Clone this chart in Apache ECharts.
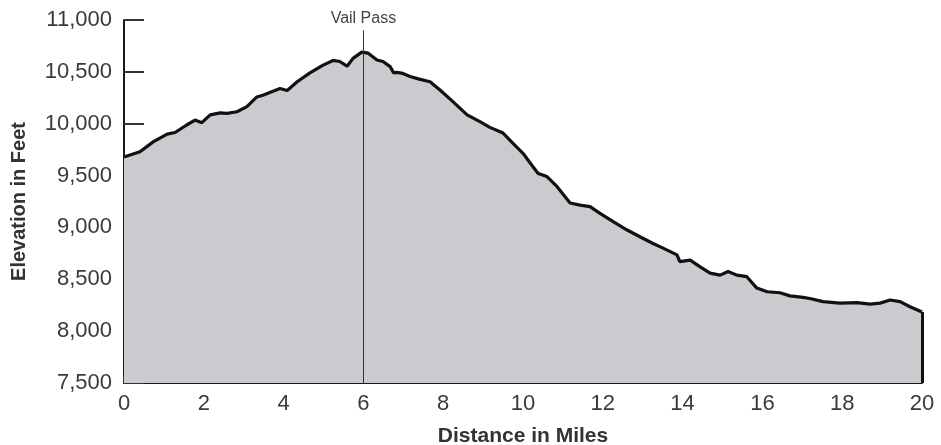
<!DOCTYPE html>
<html>
<head>
<meta charset="utf-8">
<script src="https://cdn.jsdelivr.net/npm/echarts@6/dist/echarts.min.js"></script>
<style>
  html, body { margin: 0; padding: 0; background: #fff; }
  #chart { width: 941px; height: 445px; }
</style>
</head>
<body>
<div id="chart"></div>
<script>
// Distance along route (miles)
var miles = [0, 0.40, 0.73, 1.08, 1.28, 1.58, 1.78, 1.95, 2.16, 2.41, 2.58, 2.83, 3.08, 3.33, 3.48,
  3.91, 4.09, 4.34, 4.66, 4.99, 5.24, 5.41, 5.59, 5.74, 5.96, 6.12, 6.34, 6.49, 6.67, 6.76, 6.84,
  6.99, 7.17, 7.40, 7.67, 7.92, 8.25, 8.60, 8.92, 9.17, 9.50, 9.75, 10.0, 10.25, 10.38, 10.60, 10.85,
  11.18, 11.43, 11.68, 11.93, 12.26, 12.61, 12.93, 13.26, 13.51, 13.86, 13.93, 14.19, 14.44,
  14.69, 14.94, 15.14, 15.36, 15.61, 15.86, 16.12, 16.44, 16.69, 17.02, 17.19, 17.52, 17.94,
  18.37, 18.70, 18.95, 19.20, 19.45, 19.70, 20.0];
// Elevation (feet)
var elevations = [9680, 9730, 9825, 9900, 9915, 9990, 10035, 10010, 10085, 10105, 10100, 10115, 10165, 10258, 10275,
  10340, 10320, 10405, 10490, 10565, 10610, 10600, 10555, 10630, 10690, 10680, 10615, 10600, 10550, 10490, 10495,
  10485, 10455, 10430, 10405, 10325, 10210, 10085, 10020, 9965, 9910, 9810, 9715, 9585, 9520, 9490, 9395,
  9235, 9215, 9200, 9135, 9055, 8975, 8910, 8845, 8800, 8735, 8670, 8685, 8620,
  8560, 8540, 8575, 8540, 8525, 8415, 8380, 8370, 8340, 8325, 8315, 8285, 8270,
  8275, 8260, 8270, 8300, 8285, 8235, 8185];
// Annotation
var passName = "Vail Pass";
var passMile = 6;
var passTop = 10900;
// Axes
var xMin = 0, xMax = 20, xStep = 2;
var yMin = 7500, yMax = 11000, yStep = 500;

var profile = miles.map(function (m, i) { return [m, elevations[i]]; });
var last = miles.length - 1;

var FONT = 'Liberation Sans, Arial, Helvetica, sans-serif';
var chart = echarts.init(document.getElementById('chart'), null, { renderer: 'canvas' });
chart.setOption({
  animation: false,
  backgroundColor: '#ffffff',
  grid: { left: 124, right: 19, top: 20, bottom: 62, containLabel: false, outerBoundsMode: 'none' },
  xAxis: {
    type: 'value', min: xMin, max: xMax, interval: xStep,
    name: 'Distance in Miles', nameLocation: 'middle', nameGap: 43,
    nameTextStyle: { fontFamily: FONT, fontSize: 21, fontWeight: 'bold', color: '#333' },
    axisLine: { show: true, lineStyle: { color: '#1a1a1a', width: 2 } },
    axisTick: { show: true, inside: true, length: 7, lineStyle: { color: '#333', width: 2 } },
    axisLabel: { fontFamily: FONT, fontSize: 22, color: '#3a3a3a', margin: 10 },
    splitLine: { show: false }
  },
  yAxis: {
    type: 'value', min: yMin, max: yMax, interval: yStep,
    name: 'Elevation in Feet', nameLocation: 'middle', nameGap: 95,
    nameTextStyle: { fontFamily: FONT, fontSize: 20, fontWeight: 'bold', color: '#333' },
    axisLine: { show: true, lineStyle: { color: '#1a1a1a', width: 2 } },
    axisTick: { show: true, inside: true, length: 20, lineStyle: { color: '#333', width: 2 } },
    axisLabel: {
      fontFamily: FONT, fontSize: 22, color: '#3a3a3a', margin: 12,
      formatter: function (v) { return v.toLocaleString('en-US'); }
    },
    splitLine: { show: false }
  },
  series: [{
    type: 'line',
    data: profile,
    showSymbol: false,
    smooth: false,
    lineStyle: { color: '#111', width: 3.2 },
    areaStyle: { color: '#c9cbce', opacity: 1, origin: 'start' },
    z: 2,
    markLine: {
      silent: true,
      symbol: 'none',
      animation: false,
      data: [
        [
          { coord: [passMile, yMin], lineStyle: { color: '#333', width: 1, type: 'solid' },
            label: { show: true, position: 'end', formatter: passName, fontFamily: FONT, fontSize: 16, color: '#444', distance: 4 } },
          { coord: [passMile, passTop] }
        ],
        [
          { coord: [miles[last], yMin], lineStyle: { color: '#111', width: 3, type: 'solid' }, label: { show: false } },
          { coord: [miles[last], elevations[last]] }
        ]
      ]
    }
  }]
});
</script>
</body>
</html>
